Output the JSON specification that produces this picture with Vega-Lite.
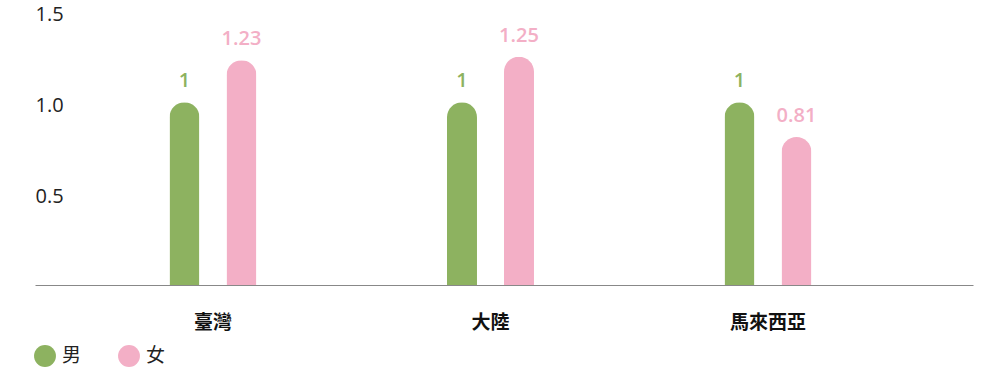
{
  "$schema": "https://vega.github.io/schema/vega-lite/v6.json",
  "autosize": "none",
  "width": 938,
  "height": 274,
  "padding": {"left": 35, "top": 11, "right": 12, "bottom": 86},
  "background": "white",
  "config": {
    "view": {"stroke": null},
    "font": "Open Sans, Noto Sans CJK TC"
  },
  "data": {
    "values": [
      {"region": "臺灣", "sex": "男", "value": 1},
      {"region": "臺灣", "sex": "女", "value": 1.23},
      {"region": "大陸", "sex": "男", "value": 1},
      {"region": "大陸", "sex": "女", "value": 1.25},
      {"region": "馬來西亞", "sex": "男", "value": 1},
      {"region": "馬來西亞", "sex": "女", "value": 0.81}
    ]
  },
  "encoding": {
    "x": {
      "field": "region",
      "type": "nominal",
      "sort": ["臺灣", "大陸", "馬來西亞"],
      "scale": {"paddingInner": 0, "paddingOuter": 0.19, "align": 0.372},
      "axis": {
        "title": null,
        "labelAngle": 0,
        "ticks": false,
        "domainColor": "#888888",
        "domainWidth": 1,
        "labelFont": "Noto Sans CJK TC",
        "labelFontSize": 19,
        "labelFontWeight": "bold",
        "labelColor": "#111111",
        "labelPadding": 28,
        "labelBaseline": "top"
      }
    },
    "xOffset": {
      "field": "sex",
      "type": "nominal",
      "sort": ["男", "女"],
      "scale": {"range": [95.25, 182.25], "paddingInner": 0.4737, "paddingOuter": 0}
    },
    "y": {
      "field": "value",
      "type": "quantitative",
      "scale": {"domain": [0, 1.5], "nice": false},
      "axis": {
        "title": null,
        "values": [0.5, 1, 1.5],
        "format": ".1f",
        "grid": false,
        "domain": false,
        "ticks": false,
        "labelAlign": "left",
        "labelPadding": 0,
        "labelOffset": 3,
        "labelFontSize": 20,
        "labelColor": "#222222",
        "labelFont": "Open Sans"
      }
    },
    "color": {
      "field": "sex",
      "type": "nominal",
      "sort": ["男", "女"],
      "scale": {"domain": ["男", "女"], "range": ["#8DB260", "#F3AFC6"]},
      "legend": {
        "title": null,
        "orient": "none",
        "legendX": -1,
        "legendY": 334,
        "direction": "horizontal",
        "symbolType": "circle",
        "symbolSize": 480,
        "symbolStrokeWidth": 0,
        "symbolOpacity": 1,
        "labelFontSize": 19,
        "labelColor": "#222222",
        "labelFont": "Noto Sans CJK TC",
        "labelOffset": 6,
        "columnPadding": 36
      }
    }
  },
  "layer": [
    {
      "mark": {"type": "bar", "cornerRadiusTopLeft": 15, "cornerRadiusTopRight": 15}
    },
    {
      "mark": {"type": "text", "baseline": "alphabetic", "dy": -15, "fontSize": 20, "fontWeight": 600, "font": "Open Sans"},
      "encoding": {"text": {"field": "value", "type": "quantitative"}}
    }
  ]
}
